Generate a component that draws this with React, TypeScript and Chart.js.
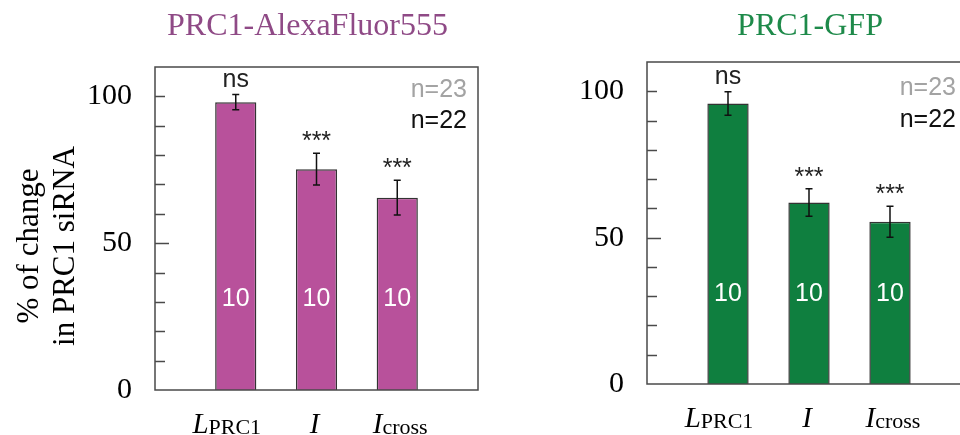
import React, { useEffect, useRef } from 'react';
import { Chart, registerables } from 'chart.js';

Chart.register(...registerables);

// ---------- data ----------
const CATEGORIES = ['LPRC1', 'I', 'Icross'];
const LABEL_MAIN = ['L', 'I', 'I'];
const LABEL_SUB = ['PRC1', '', 'cross'];
const ALEXA_VALUES = [98, 75.2, 65.5];
const ALEXA_ERRORS = [2.6, 5.4, 5.9];
const GFP_VALUES = [95.8, 62, 55.4];
const GFP_ERRORS = [4, 4.7, 5.3];
const SIGNIFICANCE = ['ns', '***', '***'];
const CELL_COUNTS = ['10', '10', '10'];
const N_LABELS = ['n=23', 'n=22'];
const Y_TICK_LABELS = [0, 50, 100];
const Y_MIN = 0;
const Y_MAX = 110;
const Y_STEP = 10;
const TITLES = ['PRC1-AlexaFluor555', 'PRC1-GFP'];
const Y_TITLE = ['% of change', 'in PRC1 siRNA'];

// ---------- style ----------
const SERIF = '"Liberation Serif", "Times New Roman", Times, serif';
const SANS = '"Liberation Sans", Arial, Helvetica, sans-serif';
const AXIS_COLOR = '#4a4a4a';
const COUNT_LEVEL = 30.8;
const LABEL_SHIFT = [-9, -2, 3];

type Panel = {
  width: number;
  left: number;
  axisWidth: number;
  pad: { top: number; right: number; bottom: number };
  barColor: string;
  titleColor: string;
  titleX: number;
  title: string;
  values: number[];
  errors: number[];
  nRightInset: number;
  nBaselines: number[];
  yTitle: boolean;
};

const PANELS: Panel[] = [
  {
    width: 480,
    left: 0,
    axisWidth: 155,
    pad: { top: 67, right: 2, bottom: 45 },
    barColor: '#b8519b',
    titleColor: '#8f4a86',
    titleX: 307.5,
    title: TITLES[0],
    values: ALEXA_VALUES,
    errors: ALEXA_ERRORS,
    nRightInset: 11,
    nBaselines: [30, 61],
    yTitle: true,
  },
  {
    width: 500,
    left: 480,
    axisWidth: 167,
    pad: { top: 62, right: 9, bottom: 51 },
    barColor: '#0f7f3f',
    titleColor: '#1e8a4a',
    titleX: 330,
    title: TITLES[1],
    values: GFP_VALUES,
    errors: GFP_ERRORS,
    nRightInset: 15,
    nBaselines: [33, 65],
    yTitle: false,
  },
];

const overlayPlugin = {
  id: 'overlay',
  afterDraw(chart: any, _args: any, opts: any) {
    const p: Panel = opts.panel;
    const { ctx, chartArea: a } = chart;
    const y = chart.scales.y;
    const meta = chart.getDatasetMeta(0);
    ctx.save();

    // frame
    ctx.strokeStyle = AXIS_COLOR;
    ctx.lineWidth = 1.5;
    ctx.strokeRect(a.left, a.top, a.right - a.left, a.bottom - a.top);

    // inward ticks
    y.ticks.forEach((t: any) => {
      const v = t.value;
      if (v <= Y_MIN || v >= Y_MAX) return;
      const py = Math.round(y.getPixelForValue(v)) + 0.5;
      const len = v === 50 ? 14 : 10;
      ctx.beginPath();
      ctx.moveTo(a.left, py);
      ctx.lineTo(a.left + len, py);
      ctx.stroke();
    });

    // error bars, annotations
    p.values.forEach((v, i) => {
      const el = meta.data[i + 1];
      const cx = el.x;
      const yt = y.getPixelForValue(v + p.errors[i]);
      const yb = y.getPixelForValue(v - p.errors[i]);
      ctx.strokeStyle = '#111';
      ctx.lineWidth = 1.5;
      ctx.beginPath();
      ctx.moveTo(cx, yt);
      ctx.lineTo(cx, yb);
      ctx.moveTo(cx - 3.5, yt);
      ctx.lineTo(cx + 3.5, yt);
      ctx.moveTo(cx - 3.5, yb);
      ctx.lineTo(cx + 3.5, yb);
      ctx.stroke();

      ctx.textAlign = 'center';
      ctx.textBaseline = 'alphabetic';
      ctx.fillStyle = '#222';
      const sig = SIGNIFICANCE[i];
      ctx.font = `25px ${SANS}`;
      ctx.fillText(sig, cx, sig === 'ns' ? yt - 8 : yt - 4);

      ctx.fillStyle = '#ffffff';
      ctx.textBaseline = 'middle';
      ctx.font = `25px ${SANS}`;
      ctx.fillText(CELL_COUNTS[i], cx, y.getPixelForValue(COUNT_LEVEL));

      // x label with subscript
      const mainFont = `italic 29px ${SERIF}`;
      const subFont = `22px ${SERIF}`;
      ctx.font = mainFont;
      const mw = ctx.measureText(LABEL_MAIN[i]).width;
      ctx.font = subFont;
      const sw = LABEL_SUB[i] ? ctx.measureText(LABEL_SUB[i]).width : 0;
      const start = cx + LABEL_SHIFT[i] - (mw + sw) / 2;
      ctx.fillStyle = '#000';
      ctx.textAlign = 'left';
      ctx.textBaseline = 'alphabetic';
      ctx.font = mainFont;
      ctx.fillText(LABEL_MAIN[i], start, a.bottom + 43);
      if (LABEL_SUB[i]) {
        ctx.font = subFont;
        ctx.fillText(LABEL_SUB[i], start + mw, a.bottom + 44);
      }
    });

    // n labels
    ctx.textAlign = 'right';
    ctx.textBaseline = 'alphabetic';
    ctx.font = `25px ${SANS}`;
    ctx.fillStyle = '#a3a3a3';
    ctx.fillText(N_LABELS[0], a.right - p.nRightInset, a.top + p.nBaselines[0]);
    ctx.fillStyle = '#111';
    ctx.fillText(N_LABELS[1], a.right - p.nRightInset, a.top + p.nBaselines[1]);

    // title
    ctx.textAlign = 'center';
    ctx.font = `32px ${SERIF}`;
    ctx.fillStyle = p.titleColor;
    ctx.fillText(p.title, p.titleX, 35);

    // y title
    if (p.yTitle) {
      ctx.save();
      ctx.translate(0, 246);
      ctx.rotate(-Math.PI / 2);
      ctx.textAlign = 'center';
      ctx.textBaseline = 'alphabetic';
      ctx.font = `31px ${SERIF}`;
      ctx.fillStyle = '#000';
      ctx.fillText(Y_TITLE[0], 0, 38);
      ctx.fillText(Y_TITLE[1], 0, 74);
      ctx.restore();
    }
    ctx.restore();
  },
};

function makeChart(canvas: HTMLCanvasElement, p: Panel) {
  return new Chart(canvas, {
    type: 'bar',
    data: {
      labels: ['', ...CATEGORIES, ''],
      datasets: [
        {
          data: [null, ...p.values, null] as any,
          backgroundColor: p.barColor,
          borderColor: '#333333',
          borderWidth: 1.5,
          barPercentage: 0.51,
          categoryPercentage: 1,
        },
      ],
    },
    options: {
      responsive: false,
      animation: false,
      devicePixelRatio: 1,
      layout: { padding: { left: 0, top: p.pad.top, right: p.pad.right, bottom: p.pad.bottom } },
      plugins: {
        legend: { display: false },
        tooltip: { enabled: false },
        overlay: { panel: p },
      } as any,
      scales: {
        x: {
          display: false,
          offset: false,
          grid: { display: false },
        },
        y: {
          min: Y_MIN,
          max: Y_MAX,
          border: { display: false },
          grid: { display: false, drawTicks: false },
          ticks: {
            stepSize: Y_STEP,
            autoSkip: false,
            padding: 23,
            color: '#000',
            font: { family: SERIF, size: 30 },
            callback: (v: any) => (Y_TICK_LABELS.includes(Number(v)) ? String(v) : ''),
          },
          afterFit: (s: any) => {
            s.width = p.axisWidth;
          },
        },
      },
    },
    plugins: [overlayPlugin],
  });
}

export default function App() {
  const leftRef = useRef<HTMLCanvasElement>(null);
  const rightRef = useRef<HTMLCanvasElement>(null);

  useEffect(() => {
    const charts: Chart[] = [];
    if (leftRef.current) charts.push(makeChart(leftRef.current, PANELS[0]));
    if (rightRef.current) charts.push(makeChart(rightRef.current, PANELS[1]));
    return () => charts.forEach((c) => c.destroy());
  }, []);

  return (
    <div
      style={{
        position: 'fixed',
        left: 0,
        top: 0,
        width: 960,
        height: 435,
        overflow: 'hidden',
        background: '#ffffff',
      }}
    >
      <canvas
        ref={leftRef}
        width={PANELS[0].width}
        height={435}
        style={{ position: 'absolute', left: PANELS[0].left, top: 0 }}
      />
      <canvas
        ref={rightRef}
        width={PANELS[1].width}
        height={435}
        style={{ position: 'absolute', left: PANELS[1].left, top: 0 }}
      />
    </div>
  );
}
